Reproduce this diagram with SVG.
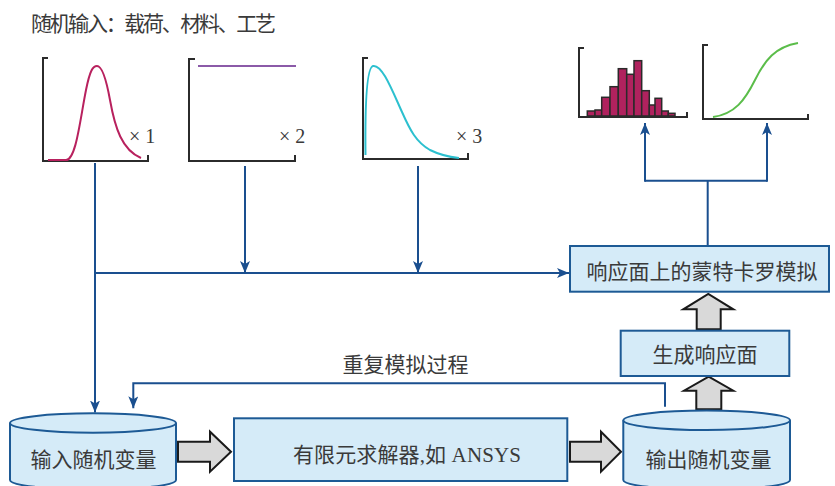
<svg xmlns="http://www.w3.org/2000/svg" width="835" height="486" viewBox="0 0 835 486">
<style>
text{font-family:"Liberation Serif","Noto Sans CJK SC",serif;fill:#3a3a3a;font-size:21px}
.box{fill:#d5ebf8;stroke:#1d5a95;stroke-width:2}
.ax{fill:none;stroke:#2b2b2b;stroke-width:2}
.conn{fill:none;stroke:#1a4f8f;stroke-width:2}
.hollow{fill:#d9d9d9;stroke:#1a1a1a;stroke-width:2;stroke-linejoin:miter}
.bar{fill:#b0225e;stroke:#2a2a2a;stroke-width:1.5}
.lbl{font-size:20px}
</style>
<defs>
<marker id="ah" markerUnits="userSpaceOnUse" viewBox="0 0 12 10" markerWidth="12" markerHeight="10" refX="12" refY="5" orient="auto">
<path d="M0,0 L12,5 L0,10 L3,5 z" fill="#1a4f8f"/>
</marker>
</defs>
<rect width="835" height="486" fill="#ffffff"/>

<g id="title"><text x="31" y="31" font-size="20" textLength="245" lengthAdjust="spacing">随机输入：载荷、材料、工艺</text></g>

<g id="chart1">
<path class="ax" d="M48,58 H43 V161 H148 V155"/>
<path d="M48,160 L66,160 C76,160 80,120 86,90 C90,70 93,66 97,66 C102,66 106,78 110,100 C115,128 122,150 141,158" fill="none" stroke="#b8215e" stroke-width="2"/>
<text class="lbl" x="129" y="143">× 1</text>
</g>
<g id="chart2">
<path class="ax" d="M195,59 H189 V161 H295 V155"/>
<path d="M198,66 H296" stroke="#8b5aa8" stroke-width="2"/>
<text class="lbl" x="279" y="143">× 2</text>
</g>
<g id="chart3">
<path class="ax" d="M368,58 H363 V159 H468 V153"/>
<path d="M365.5,155 C365,110 366,68 373,66 C382,64 392,90 402,112 C410,130 416,142 430,150 C440,155 450,157 459,158" fill="none" stroke="#2cc0cf" stroke-width="2"/>
<text class="lbl" x="456" y="143">× 3</text>
</g>

<g id="histogram">
<rect class="bar" x="587.3" y="111" width="7.7" height="5"/>
<rect class="bar" x="595" y="110" width="6.7" height="6"/>
<rect class="bar" x="601.7" y="97.3" width="8.3" height="18.7"/>
<rect class="bar" x="610" y="86.7" width="8.3" height="29.3"/>
<rect class="bar" x="618.3" y="68.7" width="8.4" height="47.3"/>
<rect class="bar" x="626.7" y="74.3" width="7.3" height="41.7"/>
<rect class="bar" x="634" y="60.7" width="7.7" height="55.3"/>
<rect class="bar" x="641.7" y="90.7" width="7.6" height="25.3"/>
<rect class="bar" x="649.3" y="105" width="5.7" height="11"/>
<rect class="bar" x="655" y="98.3" width="6.7" height="17.7"/>
<rect class="bar" x="661.7" y="111" width="6.6" height="5"/>
<rect class="bar" x="668.3" y="113.3" width="6.7" height="2.7"/>
<path class="ax" d="M584,48 H579 V117 H687 V112"/>
</g>
<g id="cdf">
<path class="ax" d="M708,45 H703 V119 H808 V114"/>
<path d="M713,117 C735,114 745,100 755,80 C765,60 775,47 798,43" fill="none" stroke="#5bbd4a" stroke-width="2"/>
</g>

<g id="connectors">
<path class="conn" d="M95,163 V412.5" marker-end="url(#ah)"/>
<path class="conn" d="M95,273 H569" marker-end="url(#ah)"/>
<path class="conn" d="M245,166 V273" marker-end="url(#ah)"/>
<path class="conn" d="M418,166 V273" marker-end="url(#ah)"/>
<path class="conn" d="M707.7,246 V180.7"/>
<path class="conn" d="M645,180.7 H767"/>
<path class="conn" d="M645,181.7 V123" marker-end="url(#ah)"/>
<path class="conn" d="M767,181.7 V123" marker-end="url(#ah)"/>
<path class="conn" d="M665,406.7 V383.3 H133.3 V408.3" marker-end="url(#ah)"/>
<path class="hollow" d="M178,441.7 H210 V431.7 L231,451.7 L210,471.7 V461.7 H178 Z"/>
<path class="hollow" d="M570,441.7 H601 V431.7 L621,451.7 L601,471.7 V461.7 H570 Z"/>
<path class="hollow" d="M696.7,329.3 V309.3 H683.3 L708.3,294 L733.3,309.3 H720.7 V329.3 Z"/>
<path class="hollow" d="M696.3,409.3 V390.7 H684 L708.7,376.7 L733.3,390.7 H721.3 V409.3 Z"/>
</g>

<g id="loop-label"><text x="405.5" y="372" text-anchor="middle">重复模拟过程</text></g>

<g id="mc-box">
<rect class="box" x="570" y="246" width="259" height="45.7"/>
<text x="702" y="278.5" text-anchor="middle">响应面上的蒙特卡罗模拟</text>
</g>
<g id="rs-box">
<rect class="box" x="620.7" y="330.7" width="168.6" height="45.3"/>
<text x="705" y="362" text-anchor="middle">生成响应面</text>
</g>
<g id="input-db">
<path class="box" d="M10,423 V480 A83,9.7 0 0 0 176,480 V423"/>
<ellipse class="box" cx="93" cy="423" rx="83" ry="9.7"/>
<text x="93.5" y="467" text-anchor="middle">输入随机变量</text>
</g>
<g id="fe-box">
<rect class="box" x="234" y="418.3" width="333.3" height="62.7"/>
<text x="293" y="462" textLength="228" lengthAdjust="spacing">有限元求解器,如 ANSYS</text>
</g>
<g id="output-db">
<path class="box" d="M623.3,420.3 V480 A83.35,9.7 0 0 0 790,480 V420.3"/>
<ellipse class="box" cx="706.7" cy="420.3" rx="83.35" ry="9.7"/>
<text x="708.5" y="467" text-anchor="middle">输出随机变量</text>
</g>
</svg>
